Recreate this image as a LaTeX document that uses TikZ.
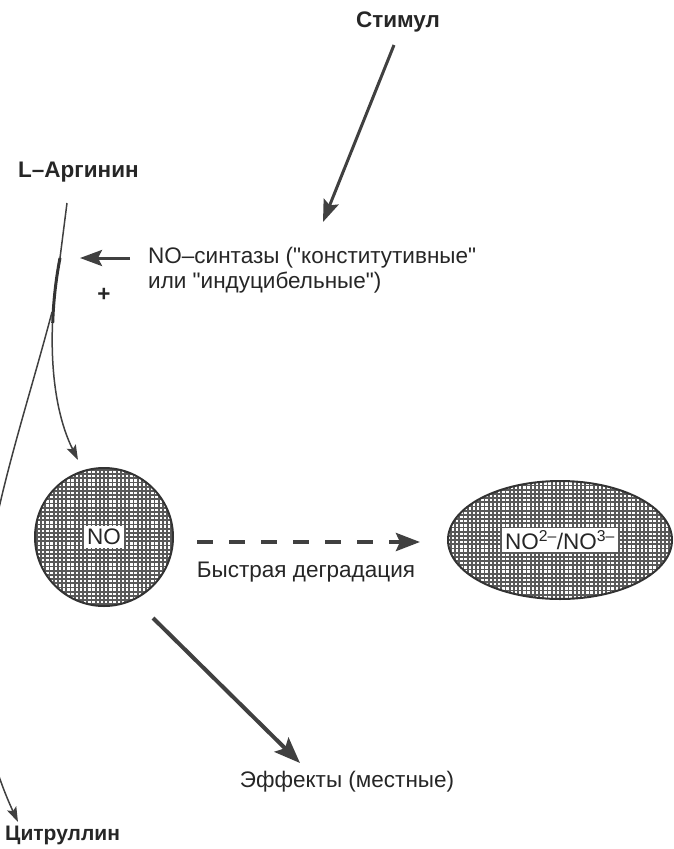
\documentclass[tikz,border=0pt]{standalone}
\usepackage{fontspec}
\setmainfont{Liberation Sans}[Ligatures=TeXOff]
\usetikzlibrary{arrows.meta,shapes.geometric}
\begin{document}
\begin{tikzpicture}[x=1pt,y=-1pt,
  txt/.style={font=\fontsize{22.5}{25}\selectfont, text=black!85, inner sep=0pt},
  btxt/.style={font=\fontsize{22.5}{25}\selectfont\bfseries, text=black!85, inner sep=0pt},
  arr/.style={draw=black!75, line width=3pt, -{Stealth[length=22pt,width=16pt,inset=4pt]}},
  thinarr/.style={draw=black!75, line width=1.5pt, -{Stealth[length=15pt,width=10pt,inset=3pt]}},
  hatch/.style={draw=black!80, line width=2pt,
    path picture={\draw[black!65,line width=1.8pt]
      ([shift={(-3pt,-3pt)}]path picture bounding box.south west) grid[step=4.2pt]
      ([shift={(3pt,3pt)}]path picture bounding box.north east);}},
  lab/.style={fill=white, inner sep=3pt, font=\fontsize{22.5}{25}\selectfont, text=black!85}
]
\useasboundingbox (0,0) rectangle (673,849);
\clip (0,0) rectangle (673,849);

% text nodes
\node[btxt] (stim) at (398,22) {Стимул};
\node[btxt, anchor=west] (arg) at (18,172) {L–Аргинин};
\node[txt, anchor=west, align=left] (syn) at (148,270) {NO–синтазы ("конститутивные"\\или "индуцибельные")};
\node[btxt] (plus) at (104,295) {+};
\node[txt] (deg) at (306,572) {Быстрая деградация};
\node[txt] (eff) at (347,782) {Эффекты (местные)};
\node[btxt, anchor=west, font=\fontsize{21}{25}\selectfont\bfseries] (cit) at (5,835) {Цитруллин};

% shapes
\node[hatch, circle, minimum size=138pt] (no) at (104,537) {};
\node[lab] (nolab) at (no.center) {NO};
\node[hatch, ellipse, minimum width=224pt, minimum height=118pt] (nox) at (560,540) {};
\node[lab] (noxlab) at (nox.center) {NO\textsuperscript{2–}/NO\textsuperscript{3–}};

% coordinates
\coordinate (stimA) at (394,45);
\coordinate (stimB) at (323,222);
\coordinate (synA) at (130,258);
\coordinate (synB) at (80,258);
\coordinate (argA) at (67,203);
\coordinate (argB) at (60,258);
\coordinate (noTip) at (78,460);
\coordinate (branch) at (52,312);
\coordinate (citTip) at (18,822);
\coordinate (degA) at (197,542);
\coordinate (degB) at (420,542);
\coordinate (effA) at (153,618);
\coordinate (effB) at (300,763);

% connectors
\draw[arr] (stimA) -- (stimB);
\draw[arr] (synA) -- (synB);
\draw[thinarr] (argA) -- (argB) .. controls (48,320) and (48,400) .. (noTip);
\begin{scope}
  \clip (0,255) rectangle (120,322);
  \draw[draw=black!80, line width=3pt] (argB) .. controls (48,320) and (48,400) .. (noTip);
\end{scope}
\draw[thinarr] (branch) .. controls (8,480) and (-62,650) .. (citTip);
\draw[arr, line width=4pt, dash pattern=on 16pt off 16pt, -{Stealth[length=24pt,width=18pt,inset=4pt]}] (degA) -- (degB);
\draw[arr, line width=4pt, -{Stealth[length=26pt,width=20pt,inset=5pt]}] (effA) -- (effB);
\end{tikzpicture}
\end{document}
